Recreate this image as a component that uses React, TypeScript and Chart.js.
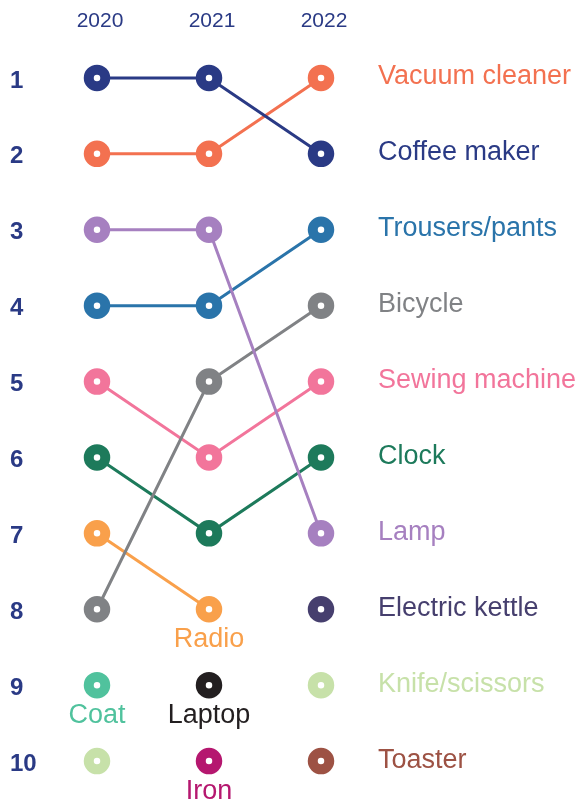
import React, { useEffect, useRef } from 'react';
import { Chart, registerables } from 'chart.js';

Chart.register(...registerables);

const years = ['2020', '2021', '2022'];
const rankLabels = ['1', '2', '3', '4', '5', '6', '7', '8', '9', '10'];

const ranking2020 = [
  'Coffee maker', 'Vacuum cleaner', 'Lamp', 'Trousers/pants', 'Sewing machine',
  'Clock', 'Radio', 'Bicycle', 'Coat', 'Knife/scissors',
];
const ranking2021 = [
  'Coffee maker', 'Vacuum cleaner', 'Lamp', 'Trousers/pants', 'Bicycle',
  'Sewing machine', 'Clock', 'Radio', 'Laptop', 'Iron',
];
const ranking2022 = [
  'Vacuum cleaner', 'Coffee maker', 'Trousers/pants', 'Bicycle', 'Sewing machine',
  'Clock', 'Lamp', 'Electric kettle', 'Knife/scissors', 'Toaster',
];
const rankings = [ranking2020, ranking2021, ranking2022];

const items = [
  'Coffee maker', 'Vacuum cleaner', 'Lamp', 'Trousers/pants', 'Bicycle',
  'Sewing machine', 'Clock', 'Radio', 'Coat', 'Knife/scissors',
  'Laptop', 'Iron', 'Electric kettle', 'Toaster',
];

const itemColors: Record<string, string> = {
  'Coffee maker': '#2a3a85',
  'Vacuum cleaner': '#f37150',
  'Lamp': '#a680c0',
  'Trousers/pants': '#2a74aa',
  'Bicycle': '#808285',
  'Sewing machine': '#f2759b',
  'Clock': '#1d7a5b',
  'Radio': '#f9a04b',
  'Coat': '#50c29d',
  'Knife/scissors': '#c7e1a9',
  'Laptop': '#231f20',
  'Iron': '#b5176f',
  'Electric kettle': '#463f6e',
  'Toaster': '#9d5244',
};

const NAVY = '#2a3a85';
const FONT = '"Liberation Sans", Arial, Helvetica, sans-serif';

function rankOf(item: string, yearIdx: number): number | null {
  const idx = rankings[yearIdx].indexOf(item);
  return idx >= 0 ? idx + 1 : null;
}

const labelPlugin = {
  id: 'itemLabels',
  afterDatasetsDraw(chart: any) {
    const { ctx } = chart;
    const xs = chart.scales.x;
    const ys = chart.scales.y;
    ctx.save();
    ctx.font = `27px ${FONT}`;
    ctx.textBaseline = 'middle';
    const last = years.length - 1;
    items.forEach((item) => {
      const color = itemColors[item];
      const finalRank = rankOf(item, last);
      ctx.fillStyle = color;
      if (finalRank !== null) {
        ctx.textAlign = 'left';
        ctx.fillText(item, xs.getPixelForValue(last) + 57, ys.getPixelForValue(finalRank) - 1);
      } else {
        let li = -1;
        years.forEach((_, i) => {
          if (rankOf(item, i) !== null) li = i;
        });
        if (li >= 0) {
          const r = rankOf(item, li) as number;
          ctx.textAlign = 'center';
          ctx.fillText(item, xs.getPixelForValue(li), ys.getPixelForValue(r) + 30);
        }
      }
    });
    ctx.restore();
  },
};

export default function App() {
  const ref = useRef<HTMLCanvasElement | null>(null);

  useEffect(() => {
    if (!ref.current) return;
    const datasets = items.map((item) => ({
      label: item,
      data: years.map((_, i) => ({ x: i, y: rankOf(item, i) })),
      borderColor: itemColors[item],
      backgroundColor: itemColors[item],
      borderWidth: 3,
      pointRadius: 8.25,
      pointBorderWidth: 10,
      pointBackgroundColor: '#ffffff',
      pointBorderColor: itemColors[item],
      pointHoverRadius: 8.25,
      spanGaps: false,
      tension: 0,
      clip: false as any,
    }));

    const chart = new Chart(ref.current, {
      type: 'line',
      data: { datasets },
      options: {
        animation: false,
        responsive: false,
        events: [],
        layout: { autoPadding: false, padding: { left: 10, right: 39, top: 0, bottom: 8 } },
        plugins: {
          legend: { display: false },
          tooltip: { enabled: false },
        },
        scales: {
          x: {
            type: 'linear',
            position: 'top',
            min: -0.5,
            max: 4,
            afterBuildTicks: (s: any) => {
              s.ticks = years.map((_, i) => ({ value: i }));
            },
            afterFit: (s: any) => {
              s.height = 40;
              s.paddingLeft = 0;
              s.paddingRight = 0;
            },
            ticks: {
              callback: (v: any) => years[v as number] ?? '',
              font: { family: FONT, size: 21 },
              color: NAVY,
              padding: 6,
              labelOffset: 3,
              maxRotation: 0,
              autoSkip: false,
            },
            grid: { display: false, drawTicks: false },
            border: { display: false },
          },
          y: {
            type: 'linear',
            reverse: true,
            min: 0.5,
            max: 10.5,
            afterBuildTicks: (s: any) => {
              s.ticks = rankLabels.map((_, i) => ({ value: i + 1 }));
            },
            afterFit: (s: any) => {
              s.width = 31;
              s.paddingTop = 0;
              s.paddingBottom = 0;
            },
            ticks: {
              callback: (v: any) => rankLabels[(v as number) - 1] ?? '',
              font: { family: FONT, size: 24, weight: 'bold' },
              color: NAVY,
              crossAlign: 'far',
              padding: 0,
              labelOffset: 3,
              autoSkip: false,
            },
            grid: { display: false, drawTicks: false },
            border: { display: false },
          },
        },
      },
      plugins: [labelPlugin],
    });
    return () => chart.destroy();
  }, []);

  return (
    <div style={{ position: 'absolute', left: 0, top: 0, width: 584, height: 807, background: '#fff' }}>
      <canvas ref={ref} width={584} height={807} style={{ display: 'block' }} />
    </div>
  );
}
